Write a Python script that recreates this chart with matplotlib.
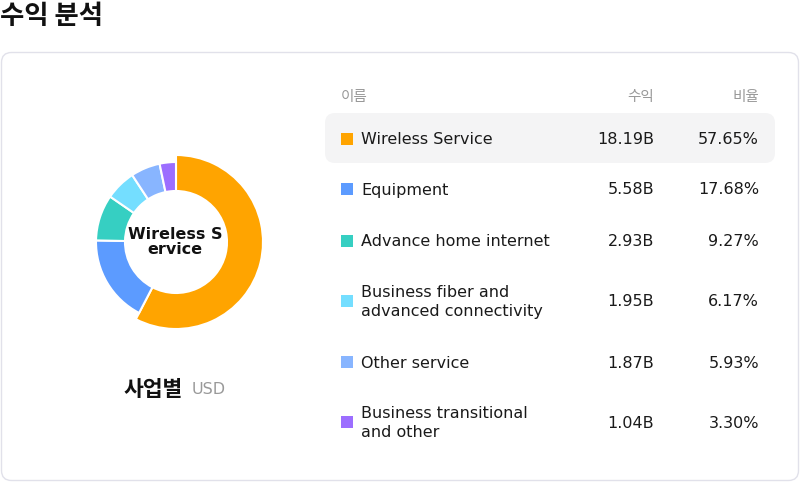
import matplotlib
matplotlib.use("Agg")
import matplotlib.pyplot as plt
from matplotlib.patches import FancyBboxPatch, Rectangle

plt.rcParams['font.family'] = ['DejaVu Sans', 'Noto Sans CJK KR']

# ---- data ----
names = ["Wireless Service", "Equipment", "Advance home internet",
         "Business fiber and\nadvanced connectivity", "Other service",
         "Business transitional\nand other"]
revenue = [18.19, 5.58, 2.93, 1.95, 1.87, 1.04]
revenue_labels = ["18.19B", "5.58B", "2.93B", "1.95B", "1.87B", "1.04B"]
share_labels = ["57.65%", "17.68%", "9.27%", "6.17%", "5.93%", "3.30%"]
colors = ["#FFA400", "#5C9BFF", "#36CFC2", "#74DEFF", "#88B5FF", "#9C6EFF"]
title = "수익 분석"
col_headers = ["이름", "수익", "비율"]
center_label = ["Wireless S", "ervice"]
group_label = "사업별"
unit_label = "USD"

W, H = 800, 482
fig = plt.figure(figsize=(W / 100, H / 100), dpi=100)
ax = fig.add_axes([0, 0, 1, 1])
ax.set_xlim(0, W)
ax.set_ylim(H, 0)
ax.axis("off")

# title
ax.text(0, 17, title, fontsize=19, fontweight="bold", color="#111111",
        va="center", ha="left", family=['Noto Sans CJK KR', 'DejaVu Sans'])

# card
card = FancyBboxPatch((1.5, 52.5), 797, 428, boxstyle="round,pad=0,rounding_size=10",
                      facecolor="white", edgecolor="#E1E1EA", linewidth=1)
ax.add_patch(card)

# highlight row
hl = FancyBboxPatch((325, 113), 450, 50, boxstyle="round,pad=0,rounding_size=10",
                    facecolor="#F4F4F5", edgecolor="none")
ax.add_patch(hl)

# headers
hdr_kw = dict(fontsize=10.5, color="#999999", va="center",
              family=['Noto Sans CJK KR', 'DejaVu Sans'])
ax.text(341, 96.5, col_headers[0], ha="left", **hdr_kw)
ax.text(654, 96.5, col_headers[1], ha="right", **hdr_kw)
ax.text(759, 96.5, col_headers[2], ha="right", **hdr_kw)

# rows
row_centers = [139, 189, 241, 301, 362, 422]
for name, rv, sh, col, yc in zip(names, revenue_labels, share_labels, colors, row_centers):
    ax.add_patch(Rectangle((341, yc - 6), 12, 12, facecolor=col, edgecolor="none"))
    lines = name.split("\n")
    if len(lines) == 1:
        ax.text(361, yc + 5.5, lines[0], fontsize=11.5, color="#1A1A1A",
                ha="left", va="baseline")
    else:
        ax.text(361, yc - 3.8, lines[0], fontsize=11.5, color="#1A1A1A",
                ha="left", va="baseline")
        ax.text(361, yc + 15, lines[1], fontsize=11.5, color="#1A1A1A",
                ha="left", va="baseline")
    ax.text(654, yc + 5.5, rv, fontsize=11.5, color="#1A1A1A", ha="right", va="baseline")
    ax.text(759, yc + 5.5, sh, fontsize=11.5, color="#1A1A1A", ha="right", va="baseline")

# bottom label
ax.text(183, 390, group_label, fontsize=15.5, fontweight="bold", color="#111111",
        ha="right", va="center", family=['Noto Sans CJK KR', 'DejaVu Sans'])
ax.text(192, 389, unit_label, fontsize=11.5, color="#999999", ha="left", va="center")

# donut
cx, cy = 176, 242
pax = fig.add_axes([(cx - 100) / W, (H - cy - 100) / H, 200 / W, 200 / H])
wedges, _ = pax.pie(revenue, radius=80, startangle=90, counterclock=False,
                    colors=colors,
                    wedgeprops=dict(width=29, edgecolor="white", linewidth=1.5))
wedges[0].set_radius(87)
wedges[0].set_width(36)
pax.set_xlim(-100, 100)
pax.set_ylim(-100, 100)
pax.set_aspect("equal")
pax.axis("off")

ax.text(cx - 1, 239, center_label[0], fontsize=11.5, fontweight="bold",
        color="#111111", ha="center", va="baseline", zorder=10)
ax.text(cx - 1, 254, center_label[1], fontsize=11.5, fontweight="bold",
        color="#111111", ha="center", va="baseline", zorder=10)

fig.savefig("out.png", dpi=100)
